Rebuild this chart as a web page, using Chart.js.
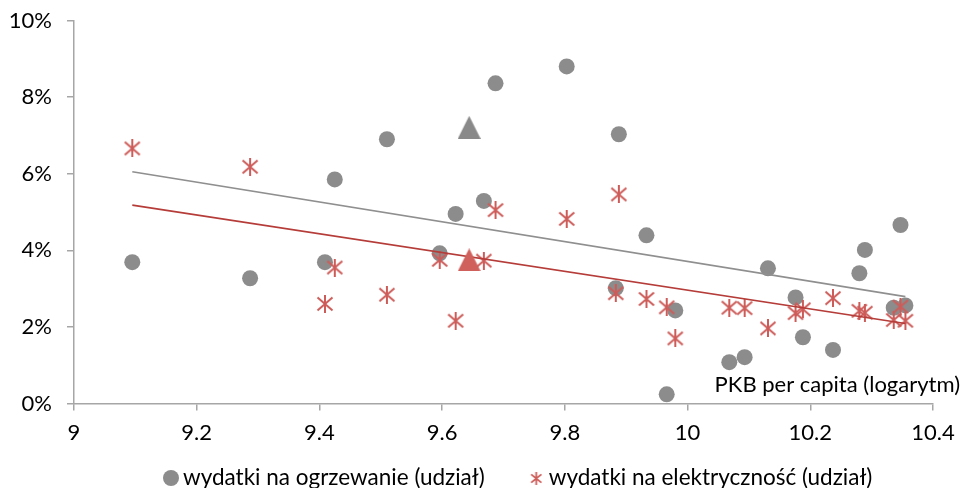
<!DOCTYPE html>
<html>
<head>
<meta charset="utf-8">
<script src="https://cdn.jsdelivr.net/npm/chart.js@4.4.1/dist/chart.umd.min.js"></script>
<style>
  html, body { margin: 0; padding: 0; background: #fff; }
  #wrap { width: 962px; height: 488px; }
</style>
</head>
<body>
<div id="wrap"><canvas id="myChart" width="962" height="488"></canvas></div>
<script>
// PKB per capita (log) for each country
var gdpLog = [9.095, 9.287, 9.409, 9.425, 9.510, 9.596, 9.622, 9.668, 9.687, 9.803, 9.883, 9.888, 9.933,
              9.966, 9.980, 10.068, 10.093, 10.131, 10.176, 10.188, 10.237, 10.280, 10.289, 10.336, 10.347, 10.355];
// udzial wydatkow (%)
var heating = [3.69, 3.27, 3.69, 5.85, 6.90, 3.92, 4.95, 5.29, 8.36, 8.80, 3.01, 7.03, 4.39,
               0.24, 2.43, 1.08, 1.21, 3.53, 2.77, 1.73, 1.40, 3.40, 4.01, 2.50, 4.66, 2.56];
var electricity = [6.66, 6.18, 2.60, 3.55, 2.84, 3.75, 2.16, 3.73, 5.05, 4.82, 2.88, 5.46, 2.73,
                   2.51, 1.70, 2.50, 2.49, 1.96, 2.36, 2.46, 2.75, 2.42, 2.37, 2.18, 2.53, 2.16];

// Polska (trojkaty)
var plX = [9.644];
var plHeating = [7.21];
var plElectricity = [3.75];

// linie trendu
var trendX = [9.095, 10.355];
var heatingTrend = [6.05, 2.79];
var electricityTrend = [5.18, 2.09];

var xTicks = [9, 9.2, 9.4, 9.6, 9.8, 10, 10.2, 10.4];
var labels = ["wydatki na ogrzewanie (udział)", "wydatki na elektryczność (udział)"];

var GREY = "#8c8c8c";
var RED = "#cd5c59";
var FONT = "Lato, 'Open Sans', sans-serif";

function makeStar(size, color, lw) {
    var c = document.createElement("canvas");
    c.width = size; c.height = size;
    var g = c.getContext("2d");
    g.strokeStyle = color;
    g.lineWidth = lw;
    var m = lw / 2 + 0.5, s = size;
    g.beginPath();
    g.moveTo(m, m + 1); g.lineTo(s - m, s - m - 1);
    g.moveTo(s - m, m + 1); g.lineTo(m, s - m - 1);
    g.moveTo(s / 2, 0); g.lineTo(s / 2, s);
    g.stroke();
    return c;
}

function makeTriangle(size, color) {
    var c = document.createElement("canvas");
    c.width = size; c.height = size;
    var g = c.getContext("2d");
    g.fillStyle = color;
    g.beginPath();
    g.moveTo(size / 2, 0);
    g.lineTo(size, size);
    g.lineTo(0, size);
    g.closePath();
    g.fill();
    return c;
}

var starBig = makeStar(18, RED, 2);
var starSmall = makeStar(13, RED, 1.8);

function pts(xs, ys) {
    return xs.map(function (x, i) { return { x: x, y: ys[i] }; });
}

// os X opis wewnatrz wykresu + legenda na dole
var extras = {
    id: "extras",
    afterDraw: function (chart) {
        var ctx = chart.ctx;
        ctx.save();
        ctx.fillStyle = "#000";
        ctx.textBaseline = "middle";

        ctx.font = "22px " + FONT;
        ctx.textAlign = "right";
        ctx.fillText("PKB per capita (logarytm)", 960, 385);

        ctx.font = "22.5px " + FONT;
        ctx.textAlign = "left";
        ctx.textBaseline = "alphabetic";
        var base = 485;
        ctx.fillStyle = GREY;
        ctx.beginPath();
        ctx.arc(171, 478, 8, 0, Math.PI * 2);
        ctx.fill();
        ctx.fillStyle = "#000";
        ctx.fillText(labels[0], 183, base);
        var x = 183 + ctx.measureText(labels[0]).width + 45;
        ctx.drawImage(starSmall, x, 472);
        ctx.fillText(labels[1], x + 19, base);
        ctx.restore();
    }
};

new Chart("myChart", {
    type: "scatter",
    data: {
        datasets: [{
            label: labels[0],
            data: pts(gdpLog, heating),
            backgroundColor: GREY,
            borderWidth: 0,
            pointRadius: 8,
            pointHoverRadius: 8,
            order: 4
        }, {
            label: labels[1],
            data: pts(gdpLog, electricity),
            pointStyle: starBig,
            backgroundColor: RED,
            borderColor: RED,
            order: 3
        }, {
            label: "trend1",
            type: "line",
            data: pts(trendX, heatingTrend),
            borderColor: "#8f8f8f",
            borderWidth: 1.6,
            pointRadius: 0,
            fill: false,
            order: 2
        }, {
            label: "trend2",
            type: "line",
            data: pts(trendX, electricityTrend),
            borderColor: "#b53c38",
            borderWidth: 1.6,
            pointRadius: 0,
            fill: false,
            order: 2
        }, {
            label: "pl1",
            data: pts(plX, plHeating),
            pointStyle: makeTriangle(23, "#898989"),
            order: 1
        }, {
            label: "pl2",
            data: pts(plX, plElectricity),
            pointStyle: makeTriangle(23, "#d0605c"),
            order: 1
        }]
    },
    options: {
        responsive: false,
        animation: false,
        layout: { padding: { left: 0, right: 29, top: 20.5, bottom: 40 } },
        plugins: {
            tooltip: { enabled: false },
            legend: { display: false }
        },
        scales: {
            x: {
                type: "linear",
                min: 9,
                max: 10.4,
                afterBuildTicks: function (s) {
                    s.ticks = xTicks.map(function (v) { return { value: v }; });
                },
                afterFit: function (s) {
                    s.height = 44.5;
                    s.paddingLeft = 0;
                    s.paddingRight = 0;
                },
                ticks: {
                    color: "#000",
                    font: { family: FONT, size: 22 },
                    padding: 9,
                    callback: function (v) { return String(v); }
                },
                grid: { drawOnChartArea: false, drawTicks: true, tickLength: 7, color: "#a6a6a6", lineWidth: 1.5 },
                border: { color: "#a6a6a6", width: 1.5 }
            },
            y: {
                min: 0,
                max: 10,
                afterFit: function (s) {
                    s.width = 74;
                    s.paddingTop = 0;
                    s.paddingBottom = 0;
                },
                ticks: {
                    stepSize: 2,
                    color: "#000",
                    font: { family: FONT, size: 22 },
                    padding: 15,
                    callback: function (v) { return v + "%"; }
                },
                grid: { drawOnChartArea: false, drawTicks: true, tickLength: 7, color: "#a6a6a6", lineWidth: 1.5 },
                border: { color: "#a6a6a6", width: 1.5 }
            }
        }
    },
    plugins: [extras]
});
</script>
</body>
</html>
